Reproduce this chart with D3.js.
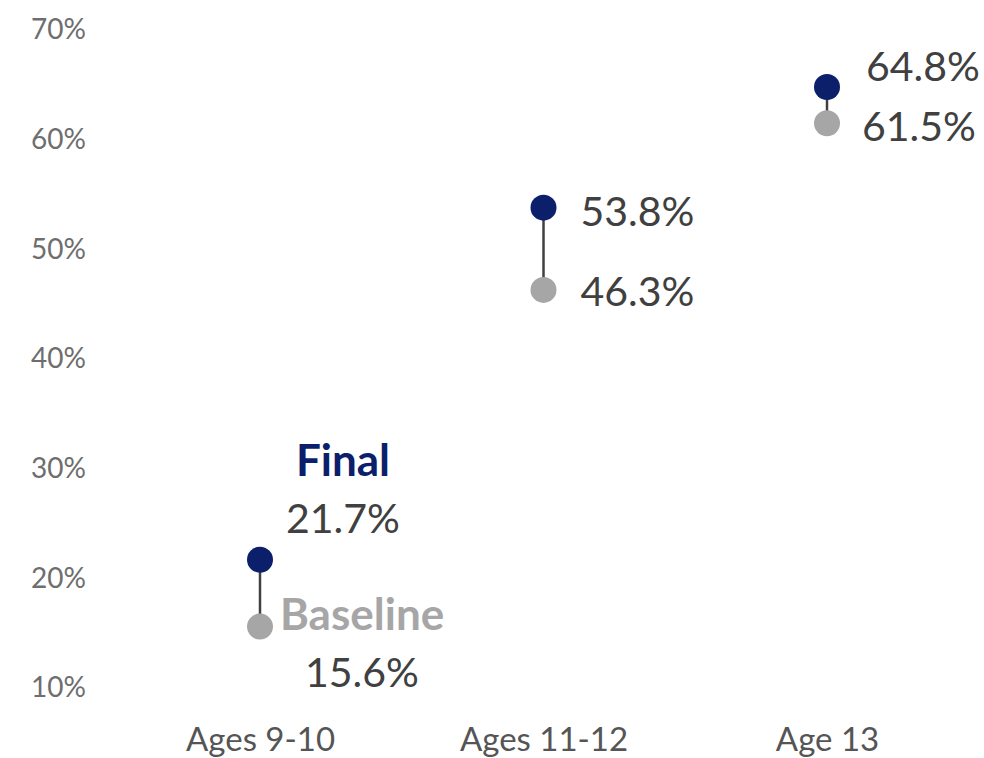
<!DOCTYPE html>
<html>
<head>
<meta charset="utf-8">
<script src="https://cdn.jsdelivr.net/npm/d3@7"></script>
<style>
  body { margin: 0; background: #fff; }
  svg { display: block; font-family: Lato, "Noto Sans", sans-serif; }
</style>
</head>
<body>
<div class="chart"></div>
<script>
const categories = ['Ages 9-10', 'Ages 11-12', 'Age 13'];
const baseline = [15.6, 46.3, 61.5];
const final = [21.7, 53.8, 64.8];
const yTicks = [10, 20, 30, 40, 50, 60, 70];

const w = 984;
const h = 758;
const navy = '#0b1f6b';
const grey = '#a6a6a6';

const xScale = d3.scalePoint()
  .domain(categories)
  .range([260, 827]);
const yScale = d3.scaleLinear()
  .domain([10, 70])
  .range([688, 30]);

const svg = d3.select('.chart')
  .append('svg')
  .attr('width', w)
  .attr('height', h);

// y axis, labels only
svg.append('g')
  .attr('class', 'y-axis')
  .attr('transform', 'translate(86, 0)')
  .call(d3.axisLeft(yScale).tickValues(yTicks).tickSize(0).tickPadding(0).tickFormat((d) => d + '%'))
  .call((g) => g.select('.domain').remove())
  .selectAll('text')
  .attr('fill', '#6e6e6e')
  .style('font-size', '28px')
  .style('font-family', 'Lato, sans-serif');

svg.append('g')
  .attr('class', 'x-axis')
  .attr('transform', 'translate(0, 728)')
  .call(d3.axisBottom(xScale).tickSize(0).tickPadding(0))
  .call((g) => g.select('.domain').remove())
  .selectAll('text')
  .attr('fill', '#555')
  .style('font-size', '33px')
  .style('font-family', 'Lato, sans-serif');

const rows = categories.map((c, i) => ({ cat: c, base: baseline[i], fin: final[i], i }));

svg.selectAll('line.link')
  .data(rows)
  .enter()
  .append('line')
  .attr('class', 'link')
  .attr('x1', (d) => xScale(d.cat))
  .attr('x2', (d) => xScale(d.cat))
  .attr('y1', (d) => yScale(d.base))
  .attr('y2', (d) => yScale(d.fin))
  .attr('stroke', '#404040')
  .attr('stroke-width', 2.5);

svg.selectAll('circle.base')
  .data(rows)
  .enter()
  .append('circle')
  .attr('class', 'base')
  .attr('cx', (d) => xScale(d.cat))
  .attr('cy', (d) => yScale(d.base))
  .attr('r', 13)
  .attr('fill', grey);

svg.selectAll('circle.fin')
  .data(rows)
  .enter()
  .append('circle')
  .attr('class', 'fin')
  .attr('cx', (d) => xScale(d.cat))
  .attr('cy', (d) => yScale(d.fin))
  .attr('r', 13)
  .attr('fill', navy);

// value label placement per category: [dx, dy, anchor] for final and baseline
const finalPos = [[83, -41, 'middle'], [37, 4, 'start'], [39, -20, 'start']];
const basePos = [[102, 46, 'middle'], [37, 2, 'start'], [35, 3, 'start']];

const labels = svg.append('g').attr('class', 'values')
  .style('font-size', '41px')
  .attr('fill', '#404040');

labels.selectAll('text.fin')
  .data(rows)
  .enter()
  .append('text')
  .attr('x', (d) => xScale(d.cat) + finalPos[d.i][0])
  .attr('y', (d) => yScale(d.fin) + finalPos[d.i][1])
  .attr('dy', '0.35em')
  .attr('text-anchor', (d) => finalPos[d.i][2])
  .text((d) => d.fin.toFixed(1) + '%');

labels.selectAll('text.base')
  .data(rows)
  .enter()
  .append('text')
  .attr('x', (d) => xScale(d.cat) + basePos[d.i][0])
  .attr('y', (d) => yScale(d.base) + basePos[d.i][1])
  .attr('dy', '0.35em')
  .attr('text-anchor', (d) => basePos[d.i][2])
  .text((d) => d.base.toFixed(1) + '%');

// series names next to the first pair
svg.append('text')
  .attr('x', xScale(categories[0]) + 83)
  .attr('y', yScale(final[0]) - 99)
  .attr('dy', '0.35em')
  .attr('text-anchor', 'middle')
  .attr('fill', navy)
  .style('font-size', '44px')
  .style('font-weight', 'bold')
  .text('Final');

svg.append('text')
  .attr('x', xScale(categories[0]) + 20)
  .attr('y', yScale(baseline[0]) - 12)
  .attr('dy', '0.35em')
  .attr('fill', grey)
  .style('font-size', '44px')
  .style('font-weight', 'bold')
  .text('Baseline');
</script>
</body>
</html>
